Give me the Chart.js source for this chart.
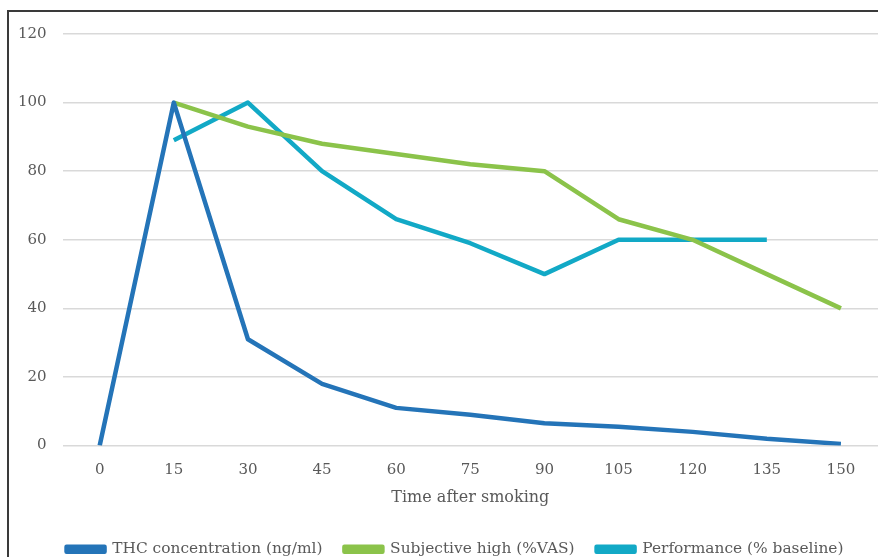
<!DOCTYPE html>
<html>
<head>
<meta charset="utf-8">
<script src="https://cdn.jsdelivr.net/npm/chart.js@4.4.0/dist/chart.umd.min.js"></script>
<style>
    html, body { margin: 0; padding: 0; background: #fff; overflow: hidden; }
    #wrap { position: relative; width: 878px; height: 567px; }
    #frame {
        position: absolute; left: 7px; top: 10px; right: -4px; bottom: -4px;
        border-left: 2px solid #3a3a3a; border-top: 2px solid #3a3a3a;
        pointer-events: none;
    }
</style>
</head>
<body>
<div id="wrap">
    <canvas id="chart" width="878" height="567"></canvas>
    <div id="frame"></div>
</div>
<script>
    // Minutes after smoking
    const minutes = ['0', '15', '30', '45', '60', '75', '90', '105', '120', '135', '150'];
    const thcConcentration = [0, 100, 31, 18, 11, 9, 6.5, 5.5, 4, 2, 0.5];
    const subjectiveHigh = [null, 100, 93, 88, 85, 82, 80, 66, 60, 50, 40];
    const performance = [null, 89, 100, 80, 66, 59, 50, 60, 60, 60, null];
    const yTicks = [0, 20, 40, 60, 80, 100, 120];

    const textColor = '#595959';
    const fontFamily = '"DejaVu Serif", "Liberation Serif", serif';

    function series(label, data, color) {
        return {
            label: label,
            data: data,
            borderColor: color,
            backgroundColor: color,
            borderWidth: 4.5,
            pointRadius: 0,
            tension: 0,
            borderJoinStyle: 'round',
            spanGaps: false
        };
    }

    // legend in the original sits a little right of the page centre
    const legendShift = {
        id: 'legendShift',
        afterLayout(chart) {
            chart.legend.left += 15;
            chart.legend.right += 15;
        }
    };

    const ctx = document.getElementById('chart').getContext('2d');
    new Chart(ctx, {
        type: 'line',
        data: {
            labels: minutes,
            datasets: [
                series('THC concentration (ng/ml)', thcConcentration, '#2474b8'),
                series('Subjective high (%VAS)', subjectiveHigh, '#8bc34a'),
                series('Performance (% baseline)', performance, '#12a9c6')
            ]
        },
        plugins: [legendShift],
        options: {
            responsive: false,
            animation: false,
            layout: { padding: { left: 2, top: 34, right: 0, bottom: 0 } },
            plugins: {
                tooltip: { enabled: false },
                legend: {
                    position: 'bottom',
                    labels: {
                        boxWidth: 38,
                        boxHeight: 5,
                        color: textColor,
                        font: { family: fontFamily, size: 15.4 },
                        padding: 22
                    }
                }
            },
            scales: {
                x: {
                    offset: true,
                    grid: { display: false, drawTicks: false },
                    border: { display: false },
                    ticks: {
                        color: textColor,
                        font: { family: fontFamily, size: 15, lineHeight: 1 },
                        padding: 17
                    },
                    title: {
                        display: true,
                        text: 'Time after smoking',
                        color: textColor,
                        font: { family: fontFamily, size: 16, lineHeight: 1 },
                        padding: { top: -5, bottom: 14 }
                    }
                },
                y: {
                    min: 0,
                    max: 120,
                    afterBuildTicks: axis => { axis.ticks = yTicks.map(v => ({ value: v })); },
                    grid: { color: '#d9d9d9', lineWidth: 1.5, drawTicks: false },
                    border: { display: false },
                    ticks: {
                        color: textColor,
                        font: { family: fontFamily, size: 15 },
                        padding: 16
                    }
                }
            }
        }
    });
</script>
</body>
</html>
